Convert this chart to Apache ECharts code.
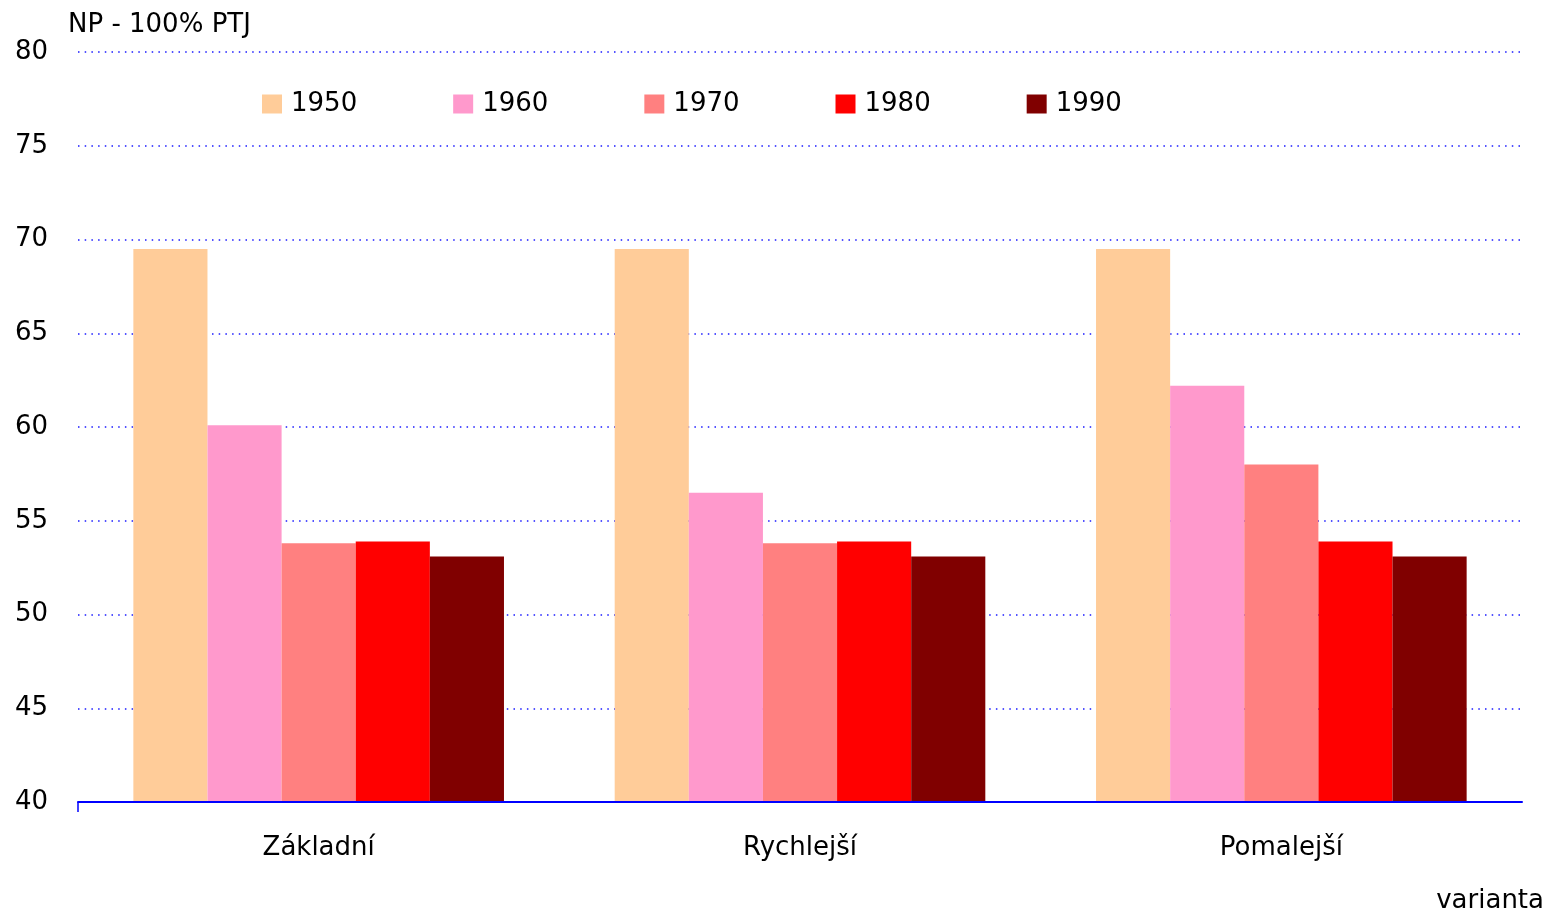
<!DOCTYPE html>
<html>
<head>
<meta charset="utf-8">
<script src="https://cdn.jsdelivr.net/npm/echarts@6/dist/echarts.min.js"></script>
<style>
  html, body { margin: 0; padding: 0; background: #fff; }
  #chart { width: 1559px; height: 914px; }
</style>
</head>
<body>
<div id="chart"></div>
<script>
// kategorie (varianty) a hodnoty podle roku
const categories = ['Základní', 'Rychlejší', 'Pomalejší'];
const years = ['1950', '1960', '1970', '1980', '1990'];
const v1950 = [69.5, 69.5, 69.5];
const v1960 = [60.1, 56.5, 62.2];
const v1970 = [53.8, 53.8, 58.0];
const v1980 = [53.9, 53.9, 53.9];
const v1990 = [53.1, 53.1, 53.1];
const yTicks = [40, 45, 50, 55, 60, 65, 70, 75, 80];

const colors = ['#FFCC99', '#FF99CC', '#FF8080', '#FF0000', '#800000'];
const values = [v1950, v1960, v1970, v1980, v1990];
const font = 'DejaVu Sans';
const fs = 26;

const chart = echarts.init(document.getElementById('chart'));
chart.setOption({
  animation: false,
  color: colors,
  title: {
    text: 'NP - 100% PTJ',
    left: 63,
    top: 7,
    textStyle: { fontFamily: font, fontSize: fs, fontWeight: 'normal', color: '#000' }
  },
  legend: {
    left: 257,
    top: 86,
    itemWidth: 20,
    itemHeight: 19,
    itemGap: 96,
    icon: 'rect',
    textStyle: { fontFamily: font, fontSize: fs, color: '#000', padding: [0, 0, 0, 4] },
    data: years
  },
  grid: { left: 78, right: 37, top: 52, bottom: 112 },
  xAxis: [{
    type: 'category',
    data: categories,
    z: 5,
    name: 'varianta',
    nameLocation: 'end',
    nameGap: 22,
    nameTextStyle: {
      fontFamily: font, fontSize: fs, color: '#000',
      align: 'right', verticalAlign: 'top', padding: [86, 0, 0, 0]
    },
    axisLine: { lineStyle: { color: '#0000FF', width: 2 } },
    axisTick: { show: false },
    axisLabel: { fontFamily: font, fontSize: fs, color: '#000', margin: 33 }
  }, {
    // pomocná osa jen kvůli jedné značce na levém konci
    type: 'value',
    position: 'bottom',
    min: 0,
    max: categories.length,
    z: 5,
    axisLine: { show: false },
    axisLabel: { show: false },
    splitLine: { show: false },
    axisTick: { show: true, length: 10, lineStyle: { color: '#0000FF', width: 1.5 }, customValues: [0] }
  }],
  yAxis: {
    type: 'value',
    min: yTicks[0],
    max: yTicks[yTicks.length - 1],
    interval: 5,
    axisLine: { show: false },
    axisTick: { show: false },
    axisLabel: { fontFamily: font, fontSize: fs, color: '#000', margin: 30 },
    splitLine: { lineStyle: { color: '#1a1aff', width: 1.5, type: [1.5, 5.2] } }
  },
  series: years.map((y, i) => ({
    name: y,
    type: 'bar',
    data: values[i],
    barGap: '0%',
    barCategoryGap: '23%',
    itemStyle: { color: colors[i] }
  }))
});
</script>
</body>
</html>
